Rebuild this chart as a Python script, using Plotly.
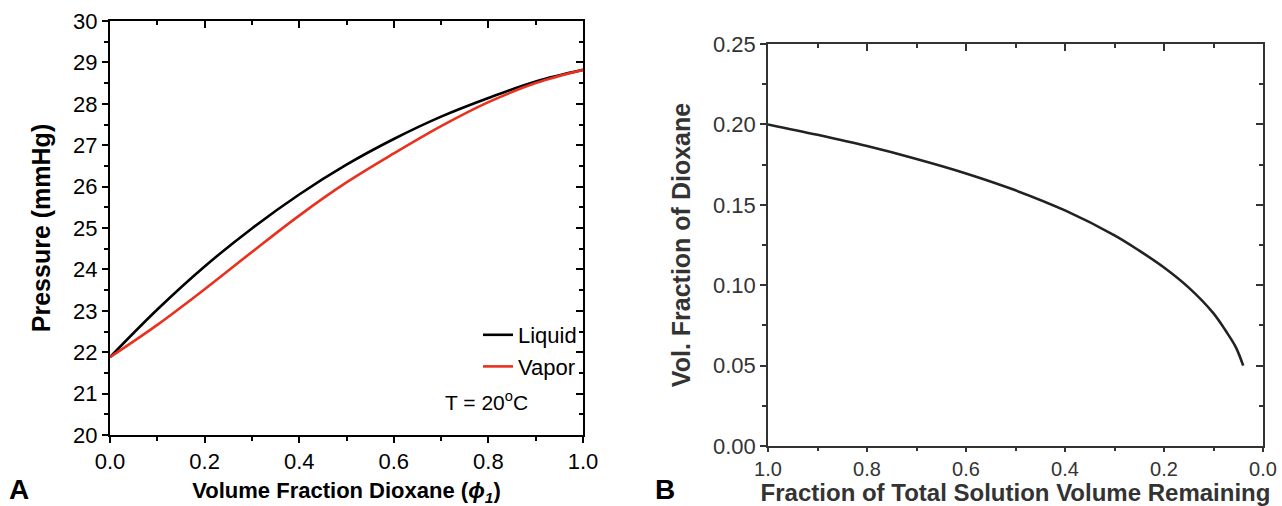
import plotly.graph_objects as go

# ---- Panel A data ----
phi = [0.0, 0.1, 0.2, 0.3, 0.4, 0.5, 0.6, 0.7, 0.8, 0.9, 1.0]
p_liquid = [21.88, 23.03, 24.07, 24.99, 25.81, 26.53, 27.15, 27.69, 28.14, 28.54, 28.82]
p_vapor = [21.88, 22.66, 23.52, 24.42, 25.30, 26.10, 26.80, 27.46, 28.04, 28.50, 28.82]

# ---- Panel B data ----
frac_remaining = [1.0, 0.9, 0.8, 0.7, 0.6, 0.5, 0.4, 0.3, 0.25, 0.2, 0.15, 0.1, 0.075, 0.055, 0.04]
vol_frac = [0.200, 0.1935, 0.1865, 0.1785, 0.1695, 0.159, 0.1465, 0.131, 0.1215, 0.111, 0.0985, 0.0825, 0.0715, 0.0615, 0.050]

FONT = "Liberation Sans, Arial, sans-serif"
W, H = 1282, 506

def px_x(v):
    return v / W

def px_y(v):
    return 1 - v / H

fig = go.Figure()
fig.add_trace(go.Scatter(x=phi, y=p_liquid, name="Liquid", mode="lines",
                         line=dict(color="#000000", width=2.6, shape="spline"),
                         xaxis="x", yaxis="y"))
fig.add_trace(go.Scatter(x=phi, y=p_vapor, name="Vapor", mode="lines",
                         line=dict(color="#e8321e", width=2.6, shape="spline"),
                         xaxis="x", yaxis="y"))
fig.add_trace(go.Scatter(x=frac_remaining, y=vol_frac, name="B", mode="lines",
                         line=dict(color="#222222", width=2.6, shape="spline"),
                         xaxis="x2", yaxis="y2", showlegend=False))
# invisible carriers so the mirrored (inward-tick) frame axes are drawn
fig.add_trace(go.Scatter(x=phi, y=p_liquid, mode="lines", line=dict(color="rgba(0,0,0,0)"),
                         xaxis="x3", yaxis="y3", showlegend=False, hoverinfo="skip"))
fig.add_trace(go.Scatter(x=frac_remaining, y=vol_frac, mode="lines", line=dict(color="rgba(0,0,0,0)"),
                         xaxis="x4", yaxis="y4", showlegend=False, hoverinfo="skip"))

A_dom_x = [px_x(110), px_x(583)]
A_dom_y = [px_y(435), px_y(21)]
B_dom_x = [px_x(768), px_x(1263)]
B_dom_y = [px_y(446), px_y(44)]

ca = "#000000"
cb = "#333333"

common = dict(showgrid=False, zeroline=False, showline=True, automargin=False)

fig.update_layout(
    width=W, height=H,
    margin=dict(l=0, r=0, t=0, b=0),
    paper_bgcolor="white", plot_bgcolor="white",
    font=dict(family=FONT, color="#000000", size=19),
    xaxis=dict(domain=A_dom_x, anchor="y", range=[0, 1], dtick=0.2, tick0=0,
               tickformat=".1f", ticks="outside", ticklen=6, tickwidth=2,
               tickcolor=ca, linecolor=ca, linewidth=2,
               minor=dict(dtick=0.1, ticks="outside", ticklen=4, tickwidth=2, tickcolor=ca),
               tickfont=dict(size=22, color=ca),
               title=dict(text="<b>Volume Fraction Dioxane (<i>ϕ<sub>1</sub></i>)</b>",
                          font=dict(size=22, color=ca)),
               **common),
    yaxis=dict(domain=A_dom_y, anchor="x", range=[20, 30], dtick=1, tick0=20,
               ticks="outside", ticklen=6, tickwidth=2,
               tickcolor=ca, linecolor=ca, linewidth=2,
               minor=dict(dtick=0.5, ticks="outside", ticklen=4, tickwidth=2, tickcolor=ca),
               tickfont=dict(size=22, color=ca),
               title=dict(text="<b>Pressure (mmHg)</b>", font=dict(size=25, color=ca)),
               **common),
    xaxis3=dict(overlaying="x", anchor="y", side="top", range=[0, 1], dtick=0.2, tick0=0,
                ticks="inside", ticklen=7, tickwidth=2, tickcolor=ca, linecolor=ca, linewidth=2,
                minor=dict(dtick=0.1, ticks="inside", ticklen=4, tickwidth=2, tickcolor=ca),
                showticklabels=False, **common),
    yaxis3=dict(overlaying="y", anchor="x", side="right", range=[20, 30], dtick=1, tick0=20,
                ticks="inside", ticklen=7, tickwidth=2, tickcolor=ca, linecolor=ca, linewidth=2,
                minor=dict(dtick=0.5, ticks="inside", ticklen=4, tickwidth=2, tickcolor=ca),
                showticklabels=False, **common),
    xaxis2=dict(domain=B_dom_x, anchor="y2", range=[1, 0], dtick=0.2, tick0=0,
                tickformat=".1f", ticks="outside", ticklen=4, tickwidth=1.6,
                tickcolor=cb, linecolor=cb, linewidth=1.6,
                minor=dict(dtick=0.1, ticks="outside", ticklen=3, tickwidth=1.6, tickcolor=cb),
                tickfont=dict(size=20, color=cb),
                title=dict(text="<b>Fraction of Total Solution Volume Remaining</b>",
                           font=dict(size=24, color=cb)),
                **common),
    yaxis2=dict(domain=B_dom_y, anchor="x2", range=[0, 0.25], dtick=0.05, tick0=0,
                tickformat=".2f", ticks="outside", ticklen=6, tickwidth=1.6,
                tickcolor=cb, linecolor=cb, linewidth=1.6,
                minor=dict(dtick=0.025, ticks="outside", ticklen=4, tickwidth=1.6, tickcolor=cb),
                tickfont=dict(size=22, color=cb),
                title=dict(text="<b>Vol. Fraction of Dioxane</b>", font=dict(size=25, color=cb)),
                **common),
    xaxis4=dict(overlaying="x2", anchor="y2", side="top", range=[1, 0], dtick=0.2, tick0=0,
                ticks="inside", ticklen=7, tickwidth=1.6, tickcolor=cb, linecolor=cb, linewidth=1.6,
                minor=dict(dtick=0.1, ticks="inside", ticklen=4, tickwidth=1.6, tickcolor=cb),
                showticklabels=False, **common),
    yaxis4=dict(overlaying="y2", anchor="x2", side="right", range=[0, 0.25], dtick=0.05, tick0=0,
                ticks="inside", ticklen=7, tickwidth=1.6, tickcolor=cb, linecolor=cb, linewidth=1.6,
                minor=dict(dtick=0.025, ticks="inside", ticklen=4, tickwidth=1.6, tickcolor=cb),
                showticklabels=False, **common),
    legend=dict(x=px_x(478), y=px_y(314), xanchor="left", yanchor="top",
                bgcolor="rgba(0,0,0,0)", font=dict(size=22, color="#000000"),
                tracegroupgap=0, itemwidth=30),
    showlegend=True,
)

fig.add_annotation(text="T = 20<sup>o</sup>C", x=px_x(443), y=px_y(401), xref="paper", yref="paper",
                   xanchor="left", yanchor="middle", showarrow=False,
                   font=dict(size=21, color="#000000", family=FONT))
fig.add_annotation(text="<b>A</b>", x=px_x(8), y=0, xref="paper", yref="paper",
                   xanchor="left", yanchor="bottom", showarrow=False, borderpad=0,
                   font=dict(size=28, color="#000000", family=FONT))
fig.add_annotation(text="<b>B</b>", x=px_x(654), y=0, xref="paper", yref="paper",
                   xanchor="left", yanchor="bottom", showarrow=False, borderpad=0,
                   font=dict(size=28, color="#000000", family=FONT))

fig.write_html("out.html")
